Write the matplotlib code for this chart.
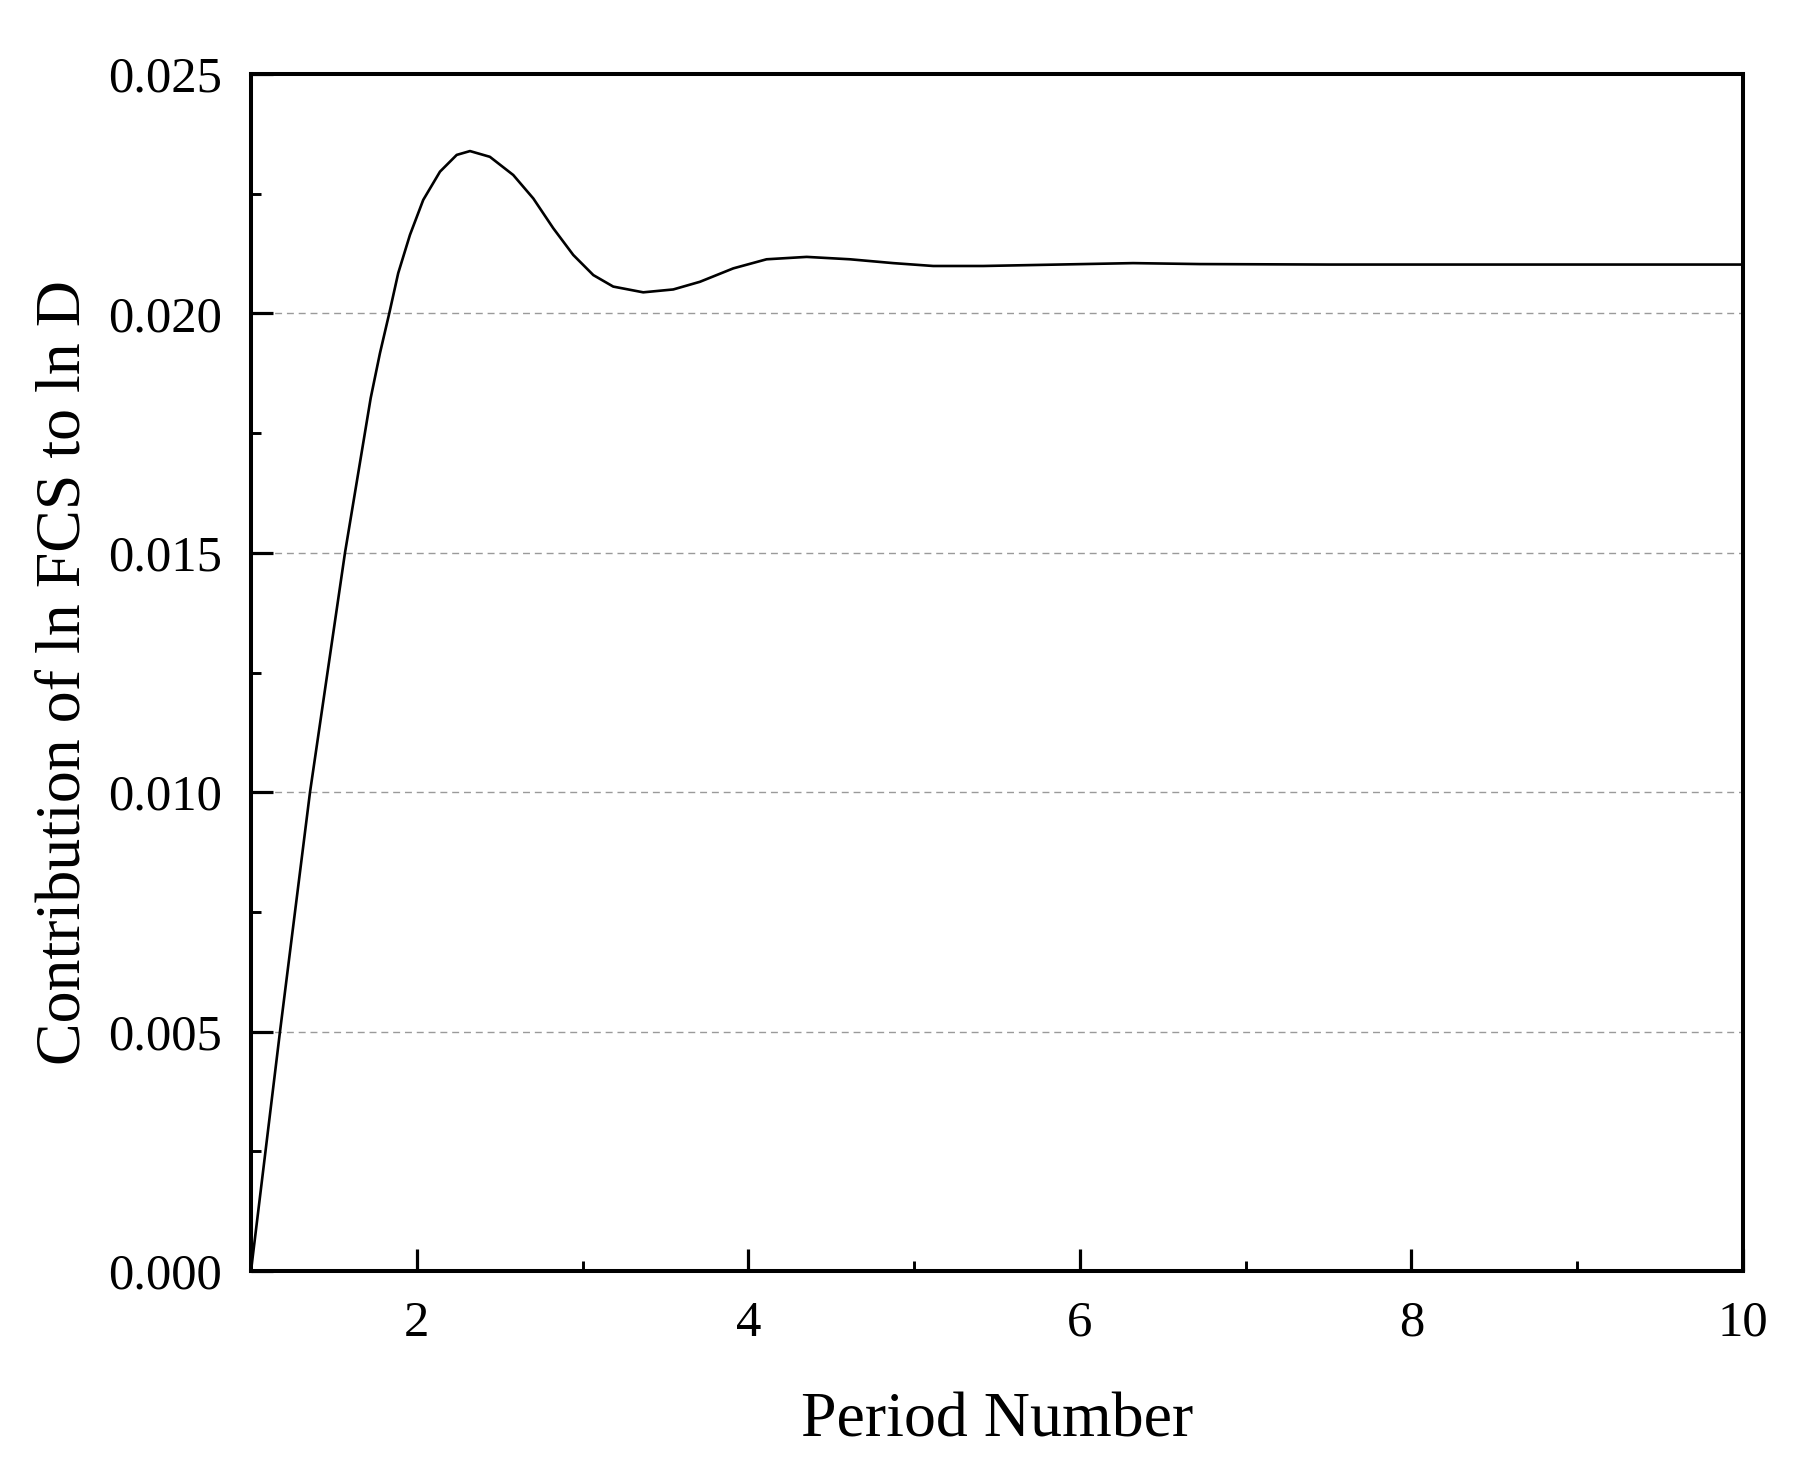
import numpy as np
import matplotlib.pyplot as plt
from matplotlib.ticker import MultipleLocator, FormatStrFormatter

# Curve (period number vs contribution)
period = [1.0, 1.175, 1.356, 1.567, 1.722, 1.778, 1.834, 1.888, 1.959, 2.039,
          2.140, 2.241, 2.321, 2.441, 2.582, 2.703, 2.823, 2.944, 3.065, 3.185,
          3.366, 3.547, 3.708, 3.909, 4.110, 4.352, 4.613, 4.874, 5.115, 5.417,
          5.718, 6.020, 6.321, 6.724, 7.5, 8.5, 10.0]
contrib = [0.0, 0.0050, 0.0100, 0.0150, 0.01823, 0.01917, 0.02000, 0.02084,
           0.02164, 0.02237, 0.02296, 0.02331, 0.02339, 0.02327, 0.02289, 0.02240,
           0.02178, 0.02122, 0.02080, 0.02056, 0.02044, 0.02050, 0.02066, 0.02094,
           0.02113, 0.02118, 0.02113, 0.02105, 0.02099, 0.02099, 0.02101, 0.02103,
           0.02105, 0.02103, 0.02102, 0.02102, 0.02102]

plt.rcParams['font.family'] = ['Liberation Serif', 'DejaVu Serif']

fig = plt.figure(figsize=(17.94, 14.62), dpi=100)
ax = fig.add_axes([0.1399, 0.1306, 0.8317, 0.8188])

ax.plot(period, contrib, color='black', lw=1.9, zorder=3)

ax.set_xlim(1, 10)
ax.set_ylim(0, 0.025)

# dashed grid at the inner major y ticks only
for gy in [0.005, 0.010, 0.015, 0.020]:
    ax.axhline(gy, color='#9a9a9a', lw=1.0, dashes=(5, 3.5), zorder=1)

ax.xaxis.set_major_locator(MultipleLocator(2))
ax.xaxis.set_minor_locator(MultipleLocator(1))
ax.yaxis.set_major_locator(MultipleLocator(0.005))
ax.yaxis.set_minor_locator(MultipleLocator(0.0025))
ax.yaxis.set_major_formatter(FormatStrFormatter('%.3f'))
ax.xaxis.set_major_formatter(FormatStrFormatter('%d'))

ax.tick_params(which='both', direction='in', top=False, right=False,
               labelsize=36.5, pad=21)
ax.tick_params(which='major', length=15.6, width=2.3)
ax.tick_params(which='minor', length=7.5, width=2.1)

for s in ax.spines.values():
    s.set_linewidth(2.9)

ax.set_xlabel('Period Number', fontsize=46, labelpad=33)
ax.set_ylabel('Contribution of ln FCS to ln D', fontsize=46, labelpad=10)

fig.savefig('out.png', dpi=100, facecolor='white')
